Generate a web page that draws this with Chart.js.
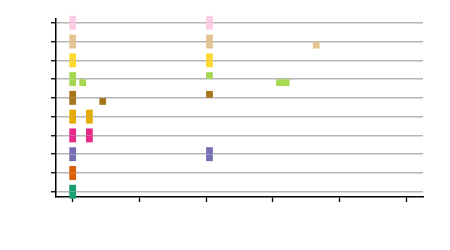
<!DOCTYPE html>
<html>
<head>
<meta charset="utf-8">
<script src="https://cdn.jsdelivr.net/npm/chart.js@4"></script>
<style>
  body { margin: 0; background: #fff; }
</style>
</head>
<body>
<canvas id="dotChart" width="450" height="250"></canvas>
<script>
// rows from bottom to top
const categories = ['A', 'B', 'C', 'D', 'E', 'F', 'G', 'H', 'I', 'J'];
// x positions of the marks above each row line
const upperX = [[0], [0], [0, 2.05], [0, 0.25], [0, 0.25], [0, 2.05], [0, 2.05], [0, 2.05], [0, 2.05], [0, 2.05]];
// x positions of the marks below each row line
const lowerX = [[0], [0], [0, 2.05], [0, 0.25], [0, 0.25], [0, 0.45], [0, 0.15, 3.1, 3.2], [0, 2.05], [0, 2.05, 3.65], [0, 2.05]];
const xTicks = [0, 1, 2, 3, 4, 5];

const colors = ['#1b9e77', '#d95f02', '#7570b3', '#e7298a', '#e6ab02',
                '#a6761d', '#a6d854', '#ffd92f', '#e5c494', '#fccde5'];
const halfOffset = 0.19;

const datasets = categories.map(function (name, i) {
    const pts = [];
    upperX[i].forEach(x => pts.push({ x: x, y: i + halfOffset }));
    lowerX[i].forEach(x => pts.push({ x: x, y: i - halfOffset }));
    return {
        label: name,
        data: pts,
        pointStyle: 'rect',
        pointRadius: 4.8,
        pointHoverRadius: 4.8,
        pointBorderWidth: 0,
        backgroundColor: colors[i],
        borderColor: colors[i],
        clip: false
    };
});

new Chart(document.getElementById('dotChart').getContext('2d'), {
    type: 'scatter',
    data: { datasets: datasets },
    options: {
        responsive: false,
        animation: false,
        layout: { padding: { left: 51, right: 27, top: 19, bottom: 48 } },
        plugins: {
            legend: { display: false },
            tooltip: { enabled: false }
        },
        scales: {
            x: {
                min: -0.25,
                max: 5.25,
                afterBuildTicks: (scale) => { scale.ticks = xTicks.map(v => ({ value: v })); },
                ticks: { display: false },
                grid: { drawOnChartArea: false, tickLength: 5, tickColor: '#000', tickWidth: 1.3 },
                border: { color: '#000', width: 1.5 }
            },
            y: {
                min: -0.28,
                max: 9.2,
                afterBuildTicks: (scale) => { scale.ticks = categories.map((c, i) => ({ value: i })); },
                ticks: { display: false },
                grid: { color: '#b5b5b5', lineWidth: 1.5, tickLength: 5, tickColor: '#000', tickWidth: 1.3 },
                border: { color: '#000', width: 1.5 }
            }
        }
    }
});
</script>
</body>
</html>
